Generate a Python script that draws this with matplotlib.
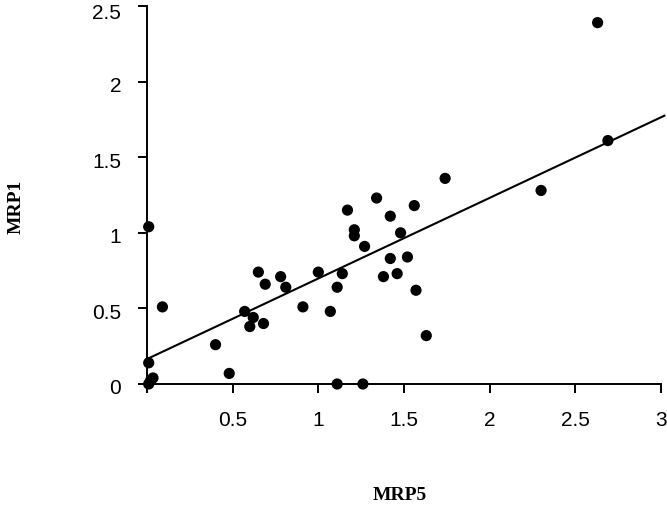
import numpy as np
import matplotlib.pyplot as plt
from matplotlib.transforms import ScaledTranslation

# MRP5 (x) vs MRP1 (y) expression values
mrp5 = [0.01, 0.02, 0.035, 0.01, 0.01, 0.09, 0.40, 0.48, 0.57, 0.60,
        0.62, 0.68, 0.65, 0.69, 0.78, 0.81, 0.91, 1.00, 1.07, 1.11,
        1.14, 1.11, 1.26, 1.21, 1.21, 1.17, 1.27, 1.34, 1.42, 1.48,
        1.42, 1.52, 1.38, 1.46, 1.56, 1.57, 1.63, 1.74, 2.30, 2.63,
        2.69]
mrp1 = [0.00, 0.02, 0.04, 0.14, 1.04, 0.51, 0.26, 0.07, 0.48, 0.38,
        0.44, 0.40, 0.74, 0.66, 0.71, 0.64, 0.51, 0.74, 0.48, 0.64,
        0.73, 0.00, 0.00, 1.02, 0.98, 1.15, 0.91, 1.23, 1.11, 1.00,
        0.83, 0.84, 0.71, 0.73, 1.18, 0.62, 0.32, 1.36, 1.28, 2.39,
        1.61]

# regression line
intercept = 0.165
slope = 0.533
line_x = [0.0, 3.02]

xticks = [0, 0.5, 1, 1.5, 2, 2.5, 3]
xticklabels = ["", "0.5", "1", "1.5", "2", "2.5", "3"]
yticks = [0, 0.5, 1, 1.5, 2, 2.5]
yticklabels = ["0", "0.5", "1", "1.5", "2", "2.5"]

fig = plt.figure(figsize=(6.67, 5.07), dpi=100)
ax = fig.add_axes([147 / 667, 123 / 507, 514 / 667, 378 / 507])

ax.scatter(mrp5, mrp1, s=65, color="black", edgecolors="none", zorder=3, clip_on=False)
ly = [intercept + slope * x for x in line_x]
ax.plot(line_x, ly, color="black", lw=1.5, clip_on=False)

ax.set_xlim(0, 3)
ax.set_ylim(0, 2.5)
ax.set_xticks(xticks)
ax.set_xticklabels(xticklabels)
ax.set_yticks(yticks)
ax.set_yticklabels(yticklabels)

for s in ["top", "right"]:
    ax.spines[s].set_visible(False)
for s in ["left", "bottom"]:
    ax.spines[s].set_linewidth(1.4)

ax.tick_params(axis="both", direction="out", length=6.5, width=1.4,
               labelsize=15, labelfontfamily="Liberation Sans")
ax.tick_params(axis="y", pad=12)
ax.tick_params(axis="x", pad=13)

# y labels sit a little below their ticks in the original
ylabs = ax.get_yticklabels()
for i, lab in enumerate(ylabs):
    dy = 6 if i == len(ylabs) - 1 else 3
    lab.set_transform(lab.get_transform() + ScaledTranslation(0, -dy / 100, fig.dpi_scale_trans))

fig.text(16 / 667, 1 - 207 / 507, "MRP1", rotation=90, ha="center", va="center",
         fontsize=14, fontweight="bold", family="Liberation Serif")
fig.text(400 / 667, 1 - 496 / 507, "MRP5", ha="center", va="center",
         fontsize=14, fontweight="bold", family="Liberation Serif")

fig.savefig("out.png", dpi=100)
